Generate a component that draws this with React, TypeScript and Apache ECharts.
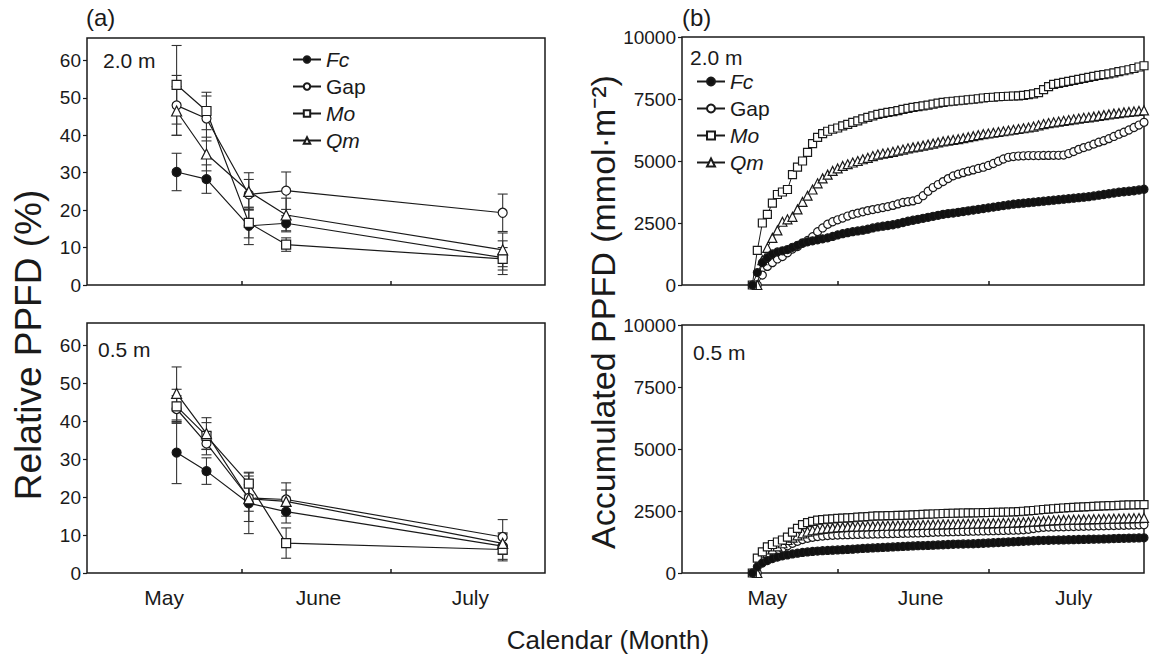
import React, { useEffect, useRef } from "react";
import * as echarts from "echarts";

const FONT = "'Liberation Sans', Arial, Helvetica, sans-serif";
const INK = "#1a1a1a";

// ---------- Panel (a): relative PPFD (%) ----------
const DAYS_A = [18, 24, 32.5, 40, 83.5]; // days since 1 May
const NAMES = ["Fc", "Gap", "Mo", "Qm"];

const A_TOP_FC = [30.2, 28.3, 15.8, 16.5, 7.3];
const A_TOP_FC_ERR = [5, 3.8, 5, 2, 4.5];
const A_TOP_GAP = [48, 44.5, 24.2, 25.2, 19.3];
const A_TOP_GAP_ERR = [8, 6, 4, 5, 5];
const A_TOP_MO = [53.5, 46.5, 16.6, 10.8, 7.0];
const A_TOP_MO_ERR = [10.5, 5, 4, 1.8, 3];
const A_TOP_QM = [46.5, 35, 25, 18.7, 9.4];
const A_TOP_QM_ERR = [6.5, 4.5, 5, 4.5, 4.5];

const A_BOT_FC = [31.8, 26.9, 18.4, 16.2, 7.1];
const A_BOT_FC_ERR = [8.2, 3.5, 8, 3, 3.5];
const A_BOT_GAP = [43.3, 34.2, 19.8, 19.4, 9.5];
const A_BOT_GAP_ERR = [3.5, 3, 3.5, 4.4, 4.6];
const A_BOT_MO = [44.0, 36.2, 23.6, 7.9, 6.2];
const A_BOT_MO_ERR = [4.5, 3.5, 3, 4, 3];
const A_BOT_QM = [47.4, 36.8, 19.6, 18.9, 7.8];
const A_BOT_QM_ERR = [7, 4.2, 6, 3, 2.5];

// ---------- Panel (b): accumulated PPFD, one value per day ----------
const B_START = { Fc: 14, Gap: 15, Mo: 14, Qm: 15 };

const B_TOP_FC = [
  0, 500, 900, 1100, 1250, 1330, 1380, 1430, 1520, 1600,
  1680, 1740, 1780, 1820, 1860, 1900, 1960, 2020, 2070, 2110,
  2150, 2180, 2210, 2250, 2300, 2340, 2370, 2400, 2430, 2470,
  2520, 2570, 2610, 2650, 2690, 2730, 2770, 2810, 2850, 2880,
  2900, 2930, 2960, 2990, 3020, 3050, 3080, 3110, 3140, 3170,
  3200, 3230, 3260, 3280, 3300, 3320, 3340, 3360, 3380, 3400,
  3420, 3440, 3460, 3480, 3500, 3520, 3540, 3560, 3590, 3620,
  3650, 3680, 3710, 3740, 3760, 3780, 3800, 3830, 3860,
];
const B_TOP_GAP = [
  0, 400, 750, 900, 1050, 1150, 1300, 1450, 1550, 1700,
  1800, 1950, 2150, 2300, 2450, 2550, 2630, 2700, 2780, 2850,
  2900, 2950, 3000, 3040, 3080, 3120, 3160, 3210, 3270, 3330,
  3360, 3390, 3450, 3600, 3780, 3930, 4050, 4170, 4290, 4400,
  4470, 4530, 4590, 4640, 4700, 4750, 4820, 4900, 4990, 5080,
  5150, 5180, 5200, 5210, 5220, 5220, 5220, 5225, 5225, 5230,
  5230, 5240, 5300, 5380, 5470, 5540, 5600, 5680, 5760, 5820,
  5900, 5990, 6080, 6160, 6250, 6350, 6450, 6560,
];
const B_TOP_MO = [
  0, 1400, 2500, 2850, 3300, 3650, 3750, 3850, 4450, 4750,
  5000, 5350, 5700, 5950, 6100, 6200, 6280, 6330, 6420, 6480,
  6560, 6620, 6700, 6760, 6820, 6880, 6920, 6960, 6990, 7030,
  7080, 7120, 7160, 7190, 7220, 7250, 7290, 7330, 7360, 7390,
  7410, 7430, 7450, 7470, 7490, 7510, 7540, 7560, 7570, 7590,
  7600, 7610, 7620, 7630, 7650, 7680, 7710, 7760, 7880, 8000,
  8090, 8130, 8170, 8210, 8250, 8290, 8330, 8370, 8410, 8450,
  8480, 8510, 8550, 8600, 8640, 8680, 8730, 8790, 8840,
];
const B_TOP_QM = [
  0, 1000, 1500, 1900, 2200, 2550, 2650, 2750, 3050, 3350,
  3600, 3850, 4100, 4300, 4450, 4600, 4700, 4800, 4870, 4940,
  5000, 5070, 5130, 5200, 5260, 5300, 5330, 5370, 5420, 5460,
  5510, 5550, 5580, 5620, 5660, 5700, 5750, 5790, 5820, 5850,
  5880, 5920, 5960, 6000, 6040, 6080, 6110, 6140, 6170, 6200,
  6230, 6260, 6290, 6320, 6350, 6390, 6440, 6490, 6530, 6560,
  6590, 6620, 6650, 6680, 6710, 6740, 6760, 6790, 6820, 6850,
  6880, 6910, 6930, 6960, 6980, 7000, 7020, 7040,
];

const B_BOT_FC = [
  0, 250, 400, 500, 580, 640, 690, 730, 770, 800,
  830, 850, 870, 885, 900, 910, 920, 930, 940, 950,
  960, 975, 990, 1000, 1010, 1020, 1030, 1040, 1050, 1060,
  1070, 1080, 1090, 1100, 1105, 1110, 1120, 1130, 1140, 1150,
  1160, 1165, 1170, 1175, 1180, 1190, 1200, 1210, 1220, 1230,
  1240, 1250, 1260, 1270, 1280, 1290, 1300, 1310, 1315, 1320,
  1325, 1330, 1335, 1340, 1345, 1350, 1355, 1360, 1365, 1370,
  1375, 1380, 1390, 1395, 1400, 1405, 1410, 1415, 1420,
];
const B_BOT_GAP = [
  0, 450, 650, 800, 900, 1000, 1100, 1200, 1280, 1350,
  1400, 1440, 1470, 1490, 1510, 1520, 1530, 1540, 1545, 1550,
  1555, 1560, 1565, 1570, 1575, 1580, 1585, 1590, 1595, 1600,
  1605, 1610, 1615, 1620, 1630, 1640, 1650, 1655, 1660, 1665,
  1670, 1675, 1680, 1685, 1690, 1695, 1700, 1705, 1710, 1715,
  1720, 1725, 1730, 1740, 1760, 1790, 1820, 1840, 1850, 1855,
  1860, 1865, 1870, 1875, 1880, 1885, 1890, 1895, 1900, 1905,
  1910, 1915, 1920, 1925, 1930, 1935, 1940, 1945,
];
const B_BOT_MO = [
  0, 600, 850, 1050, 1150, 1250, 1330, 1450, 1650, 1800,
  1950, 2030, 2080, 2130, 2150, 2170, 2185, 2200, 2210, 2220,
  2235, 2250, 2260, 2275, 2290, 2300, 2305, 2310, 2315, 2320,
  2325, 2330, 2340, 2350, 2360, 2370, 2380, 2390, 2400, 2405,
  2410, 2415, 2420, 2425, 2428, 2430, 2435, 2440, 2445, 2450,
  2455, 2460, 2465, 2475, 2490, 2505, 2520, 2540, 2560, 2575,
  2590, 2605, 2620, 2635, 2650, 2660, 2670, 2680, 2690, 2700,
  2710, 2715, 2720, 2730, 2740, 2745, 2750, 2755, 2760,
];
const B_BOT_QM = [
  0, 600, 800, 950, 1070, 1200, 1330, 1430, 1520, 1600,
  1670, 1720, 1750, 1780, 1800, 1820, 1840, 1850, 1860, 1870,
  1875, 1880, 1885, 1890, 1895, 1900, 1905, 1910, 1915, 1920,
  1925, 1930, 1935, 1940, 1945, 1950, 1955, 1960, 1965, 1970,
  1975, 1980, 1985, 1990, 1995, 2000, 2005, 2010, 2015, 2020,
  2025, 2030, 2040, 2050, 2060, 2070, 2085, 2100, 2115, 2125,
  2135, 2140, 2145, 2150, 2155, 2160, 2165, 2170, 2175, 2180,
  2185, 2190, 2195, 2200, 2205, 2210, 2215, 2220,
];

// ---------- Axis labels ----------
const MONTHS = ["May", "June", "July"];
const MONTH_LABEL_POS_A = [15.5, 46.5, 77];
const MONTH_LABEL_POS_B = [17, 47.5, 78];
const MONTH_TICKS = [31, 61];
const X_MIN = 0;
const X_MAX = 92;

const SYMBOL: Record<string, string> = { Fc: "circle", Gap: "circle", Mo: "rect", Qm: "triangle" };
const FILLED: Record<string, boolean> = { Fc: true, Gap: false, Mo: false, Qm: false };
const ITALIC: Record<string, boolean> = { Fc: true, Gap: false, Mo: true, Qm: true };

const GRIDS = [
  { left: 87, top: 38, width: 458, height: 247 },
  { left: 87, top: 323, width: 458, height: 250 },
  { left: 682, top: 37, width: 462, height: 248 },
  { left: 682, top: 325, width: 462, height: 248 },
];

function nearestLabel(v: number, pos: number[]) {
  let best = 0;
  for (let i = 1; i < pos.length; i++) {
    if (Math.abs(pos[i] - v) < Math.abs(pos[best] - v)) best = i;
  }
  return MONTHS[best];
}

function xAxis(gridIndex: number, showLabels: boolean, labelPos: number[]) {
  return {
    type: "value",
    gridIndex,
    min: X_MIN,
    max: X_MAX,
    axisLine: { show: false },
    splitLine: { show: false },
    axisTick: {
      show: true,
      inside: true,
      length: 4,
      customValues: MONTH_TICKS,
      lineStyle: { color: INK, width: 1.5 },
    },
    axisLabel: {
      show: showLabels,
      customValues: labelPos,
      formatter: (v: number) => nearestLabel(v, labelPos),
      fontSize: 21,
      fontFamily: FONT,
      color: INK,
      margin: 14,
    },
  };
}

function yAxis(gridIndex: number, max: number, interval: number, hideMax: boolean) {
  return {
    type: "value",
    gridIndex,
    min: 0,
    max,
    interval,
    axisLine: { show: false },
    splitLine: { show: false },
    axisTick: { show: true, inside: false, length: 4, lineStyle: { color: INK, width: 1.2 } },
    axisLabel: {
      showMaxLabel: !hideMax,
      formatter: (v: number) => String(v),
      fontSize: 19,
      fontFamily: FONT,
      color: INK,
      margin: 6,
    },
  };
}

function lineSeries(name: string, idx: number, data: number[][], size: number, lineW: number) {
  const filled = FILLED[name];
  return {
    type: "line",
    name,
    xAxisIndex: idx,
    yAxisIndex: idx,
    data,
    symbol: SYMBOL[name],
    symbolSize: SYMBOL[name] === "triangle" ? size + 1 : size,
    showSymbol: true,
    showAllSymbol: true,
    lineStyle: { color: INK, width: lineW },
    itemStyle: { color: filled ? "#111" : "#ffffff", borderColor: INK, borderWidth: 1.2, opacity: 1 },
    emphasis: { disabled: true },
    z: 3,
  };
}

function errSeries(name: string, idx: number, means: number[], errs: number[]) {
  const data = DAYS_A.map((d, i) => [d, means[i], means[i] - errs[i], means[i] + errs[i]]);
  return {
    type: "custom",
    name: name + " error",
    xAxisIndex: idx,
    yAxisIndex: idx,
    data,
    encode: { x: 0, y: [1, 2, 3] },
    z: 2,
    silent: true,
    renderItem: (_params: any, api: any) => {
      const x = api.value(0);
      const lo = api.coord([x, api.value(2)]);
      const hi = api.coord([x, api.value(3)]);
      const cap = 5;
      const style = { stroke: "#333", lineWidth: 1.1 };
      return {
        type: "group",
        children: [
          { type: "line", shape: { x1: lo[0], y1: lo[1], x2: hi[0], y2: hi[1] }, style },
          { type: "line", shape: { x1: lo[0] - cap, y1: lo[1], x2: lo[0] + cap, y2: lo[1] }, style },
          { type: "line", shape: { x1: hi[0] - cap, y1: hi[1], x2: hi[0] + cap, y2: hi[1] }, style },
        ],
      };
    },
  };
}

function dailyData(start: number, vals: number[]) {
  return vals.map((v, i) => [start + i, v]);
}

function legendFor(left: number, top: number, itemHeight: number) {
  return {
    orient: "vertical",
    left,
    top,
    padding: 0,
    itemWidth: 28,
    itemHeight,
    itemGap: 6,
    selectedMode: false,
    data: NAMES.map((n) => ({
      name: n,
      textStyle: { fontStyle: ITALIC[n] ? "italic" : "normal" },
    })),
    textStyle: { fontSize: 21, fontFamily: FONT, color: INK, padding: [0, 0, 0, 0] },
  };
}

function text(t: string, x: number, y: number, size: number, extra: any = {}) {
  return {
    type: "text",
    x,
    y,
    rotation: extra.rotation || 0,
    style: {
      text: t,
      fontSize: size,
      fontFamily: FONT,
      fill: INK,
      align: extra.align || "left",
      verticalAlign: "middle",
    },
    z: 10,
  };
}

export default function App() {
  const ref = useRef<HTMLDivElement>(null);

  useEffect(() => {
    if (!ref.current) return;
    const chart = echarts.init(ref.current, undefined, { renderer: "svg" });

    const aTop: Record<string, [number[], number[]]> = {
      Fc: [A_TOP_FC, A_TOP_FC_ERR],
      Gap: [A_TOP_GAP, A_TOP_GAP_ERR],
      Mo: [A_TOP_MO, A_TOP_MO_ERR],
      Qm: [A_TOP_QM, A_TOP_QM_ERR],
    };
    const aBot: Record<string, [number[], number[]]> = {
      Fc: [A_BOT_FC, A_BOT_FC_ERR],
      Gap: [A_BOT_GAP, A_BOT_GAP_ERR],
      Mo: [A_BOT_MO, A_BOT_MO_ERR],
      Qm: [A_BOT_QM, A_BOT_QM_ERR],
    };
    const bTop: Record<string, number[]> = { Fc: B_TOP_FC, Gap: B_TOP_GAP, Mo: B_TOP_MO, Qm: B_TOP_QM };
    const bBot: Record<string, number[]> = { Fc: B_BOT_FC, Gap: B_BOT_GAP, Mo: B_BOT_MO, Qm: B_BOT_QM };

    const series: any[] = [];
    [aTop, aBot].forEach((set, idx) => {
      NAMES.forEach((n) => {
        const [m, e] = set[n];
        series.push(errSeries(n, idx, m, e));
      });
      NAMES.forEach((n) => {
        const [m] = set[n];
        series.push(lineSeries(n, idx, DAYS_A.map((d, i) => [d, m[i]]), 9, 1.2));
      });
    });
    [bTop, bBot].forEach((set, k) => {
      const idx = k + 2;
      ["Gap", "Qm", "Mo", "Fc"].forEach((n) => {
        series.push(lineSeries(n, idx, dailyData(B_START[n as keyof typeof B_START], set[n]), 8, 1));
      });
    });

    const option: any = {
      animation: false,
      backgroundColor: "#ffffff",
      grid: GRIDS.map((g) => ({
        ...g,
        show: true,
        borderColor: INK,
        borderWidth: 1.5,
        backgroundColor: "transparent",
        containLabel: false,
      })),
      xAxis: [
        xAxis(0, false, MONTH_LABEL_POS_A),
        xAxis(1, true, MONTH_LABEL_POS_A),
        xAxis(2, false, MONTH_LABEL_POS_B),
        xAxis(3, true, MONTH_LABEL_POS_B),
      ],
      yAxis: [yAxis(0, 66, 10, true), yAxis(1, 66, 10, true), yAxis(2, 10000, 2500, false), yAxis(3, 10000, 2500, false)],
      legend: [legendFor(292, 49, 8), legendFor(696, 71, 10)],
      series,
      graphic: [
        text("(a)", 86, 17, 24),
        text("(b)", 682, 17, 24),
        text("2.0 m", 103, 60, 21),
        text("0.5 m", 98, 349, 21),
        text("2.0 m", 690, 57, 21),
        text("0.5 m", 693, 352, 21),
        text("Relative PPFD (%)", 28, 345, 37, { rotation: Math.PI / 2, align: "center" }),
        text("Accumulated PPFD (mmol·m⁻²)", 603, 312, 34, { rotation: Math.PI / 2, align: "center" }),
        text("Calendar (Month)", 608, 640, 26, { align: "center" }),
      ],
    };

    chart.setOption(option);
    return () => chart.dispose();
  }, []);

  return (
    <div
      ref={ref}
      style={{ position: "fixed", left: 0, top: 0, width: 1151, height: 665, background: "#fff" }}
    />
  );
}
